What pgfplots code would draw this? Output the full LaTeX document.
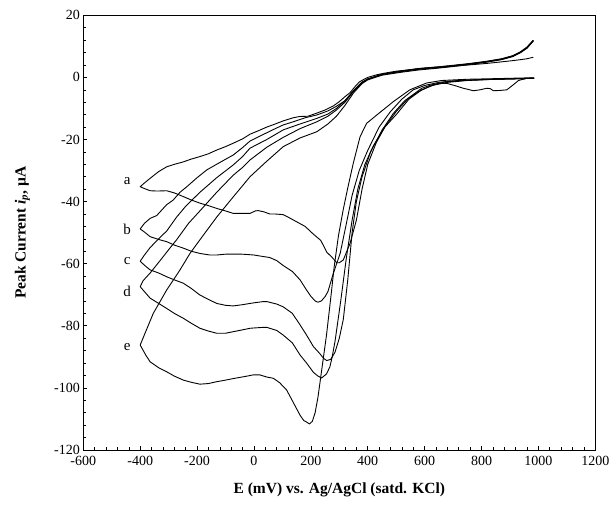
\documentclass[border=0pt]{standalone}
\usepackage{fontspec}
\setmainfont{Liberation Serif}
\usepackage{pgfplots}
\pgfplotsset{compat=1.18}
\usetikzlibrary{calc}
\begin{document}
\begin{tikzpicture}
\begin{axis}[
  scale only axis,
  width=512pt, height=434.7pt,
  xmin=-600, xmax=1200, ymin=-120, ymax=20,
  xtick={-600,-400,...,1200}, ytick={-120,-100,...,20},
  minor x tick num=4, minor y tick num=4,
  tick pos=left, tick align=inside,
  major tick length=4pt, minor tick length=2.5pt,
  axis line style={line width=0.8pt},
  every tick/.style={black, line width=0.6pt},
  /pgf/number format/assume math mode=true,
  /pgf/number format/1000 sep={},
  ticklabel style={font=\fontsize{14}{15}\selectfont},
  xticklabel style={yshift=-3pt},
  xlabel={\textbf{E (mV) vs. Ag/AgCl (satd. KCl)}},
  ylabel={\textbf{Peak Current \textit{i}\textsubscript{\textit{p}}, µA}},
  label style={font=\fontsize{15.5}{16}\selectfont},
  xlabel style={at={(axis description cs:0.5,-0.092)}, anchor=center},
  ylabel style={at={(axis description cs:-0.119,0.5)}, anchor=center},
  every axis plot post/.style={black, line width=0.9pt, line join=round, mark=none},
  clip=false,
]
% curve a
\addplot coordinates {(985,-0.2)(960,-0.3)(945,-0.6)(930,-1)(910,-2.5)(889,-4)(865,-4.2)(842,-4.3)(830,-3.6)(818,-3.5)(795,-4)(771,-4.3)(750,-3.8)(736,-3.5)(705,-2.6)(677,-1.9)(650,-2)(620,-2.8)(580,-4.5)(540,-7)(500,-11)(460,-16)(430,-21)(400,-28)(380,-36)(360,-46)(338,-53.4)(314,-58.8)(300,-59.7)(291,-59.7)(275,-58)(256,-56.3)(235,-52.5)(209,-50.5)(180,-48)(150,-46.5)(120,-45)(103,-44.2)(75,-44)(56,-44)(35,-43.3)(15,-42.9)(5,-43)(-14,-43.8)(-40,-43.8)(-73,-43.8)(-100,-43)(-131,-42.2)(-160,-41.3)(-190,-40.5)(-220,-39.5)(-248,-38.4)(-280,-37.2)(-307,-36.5)(-340,-36.6)(-365,-36.5)(-385,-35.8)(-400,-35.2)
(-385,-34)(-365,-32.5)(-336,-30.4)(-307,-28.8)(-280,-28)(-248,-27.2)(-220,-26.3)(-190,-25.5)(-160,-24.6)(-131,-23.4)(-100,-22.3)(-73,-21.2)(-40,-19.8)(-14,-18.3)(15,-17.2)(45,-16)(75,-15)(103,-14)(138,-13)(160,-12.6)(190,-12.5)(221,-11.5)(250,-10.5)(279,-9.2)(300,-7.8)(320,-6.2)(338,-4.9)(355,-3)(370,-1.5)(385,-0.7)(400,0)(430,0.8)(455,1.3)(500,2)(572,2.7)(650,3.2)(700,3.6)(780,4.2)(818,4.5)(870,5)(910,5.4)(936,5.7)(960,6)(982,6.5)};
% curve b
\addplot coordinates {(985,-0.3)(900,-0.5)(800,-0.7)(700,-1.1)(650,-1.6)(600,-2.6)(560,-4)(520,-7)(480,-11)(440,-16)(400,-23.5)(370,-30)(345,-38)(325,-47)(303,-56.7)(279,-63.1)(260,-69)(250,-70.6)(237,-72)(225,-72.4)(215,-72)(200,-70.5)(185,-68.5)(162,-65.2)(135,-62.5)(103,-60.6)(80,-59)(55,-58)(33,-57.7)(0,-57.2)(-30,-57)(-50,-56.9)(-73,-56.9)(-96,-56.9)(-131,-57.2)(-155,-57.2)(-190,-56.7)(-220,-56)(-248,-55)(-280,-54)(-307,-52.9)(-335,-52.2)(-365,-51.3)(-385,-49.8)(-400,-48.8)
(-385,-47)(-365,-45.4)(-342,-44.5)(-307,-41)(-284,-39.5)(-260,-37)(-236,-35.2)(-200,-32.3)(-166,-29.8)(-120,-27.4)(-73,-25)(-40,-22.6)(-14,-20.5)(30,-18.5)(68,-16.8)(103,-15.3)(138,-14.3)(180,-13)(221,-12.1)(260,-10.8)(290,-9.3)(320,-7.5)(350,-4.5)(380,-1.8)(400,-0.6)(450,1)(513,1.9)(580,2.8)(650,3.4)(700,3.8)(760,4.3)(818,5)(870,5.8)(910,6.8)(936,8)(960,9.5)(982,11.8)};
% curve c
\addplot coordinates {(985,-0.3)(850,-0.6)(750,-0.9)(670,-1.5)(620,-2.5)(590,-3.5)(560,-5.5)(530,-7.5)(490,-11.6)(450,-17)(410,-24)(380,-32)(360,-40)(345,-50)(330,-65)(314,-78)(300,-84)(285,-88.5)(270,-90.8)(256,-91.2)(245,-90.5)(230,-88.8)(209,-86.7)(185,-83)(162,-79.7)(135,-76)(103,-73.9)(80,-73)(45,-72.2)(33,-72.2)(0,-72.6)(-14,-72.8)(-40,-73.2)(-73,-73.6)(-100,-73.4)(-131,-72.8)(-160,-71.5)(-190,-70.1)(-220,-68)(-248,-66.3)(-280,-65.2)(-307,-64.2)(-335,-63)(-365,-62)(-385,-60.5)(-400,-59.2)
(-385,-57.2)(-365,-54.8)(-330,-51.5)(-307,-49.5)(-272,-45)(-240,-41.5)(-190,-37)(-131,-32.3)(-73,-28.2)(-40,-25.5)(-14,-22.8)(45,-20)(103,-16.9)(162,-15)(221,-13.2)(260,-11.8)(290,-10)(320,-7.5)(350,-4.2)(380,-1.5)(400,-0.5)(450,1)(513,2)(580,2.9)(650,3.4)(700,3.9)(760,4.5)(818,5.2)(870,6)(910,7)(936,8.2)(960,9.8)(982,12)};
% curve d
\addplot coordinates {(985,-0.3)(850,-0.6)(750,-1)(680,-1.6)(630,-2.5)(590,-4)(545,-7)(500,-12)(460,-16)(420,-22)(390,-28)(365,-36)(345,-46)(325,-58)(305,-72)(285,-85)(275,-90)(267,-93.2)(255,-95.5)(238,-96.8)(225,-96.2)(209,-95)(185,-92)(162,-89.4)(135,-85.5)(103,-83)(80,-81.5)(45,-80.5)(33,-80.5)(0,-80.7)(-14,-80.8)(-40,-81.3)(-73,-81.9)(-100,-82.4)(-131,-82.4)(-160,-81.7)(-190,-80.8)(-220,-79.2)(-248,-77.6)(-280,-76)(-307,-74.4)(-335,-72.8)(-365,-71.1)(-385,-69)(-400,-67.4)
(-390,-65.5)(-365,-63)(-330,-59)(-300,-55.5)(-272,-52.3)(-230,-47)(-190,-43)(-131,-37)(-73,-31.5)(-40,-29)(-14,-26.6)(45,-22.5)(103,-19.3)(162,-16.5)(221,-14.3)(260,-12.5)(290,-10.5)(320,-8)(350,-4.5)(380,-1.6)(400,-0.5)(450,0.9)(513,1.8)(580,2.6)(650,3.2)(700,3.7)(760,4.4)(818,5.1)(870,5.9)(910,6.9)(936,8.1)(960,9.6)(982,11.9)};
% curve e
\addplot coordinates {(985,-0.1)(850,-0.4)(750,-0.6)(660,-1)(607,-1.8)(548,-4)(490,-7.8)(432,-12.1)(396,-14.8)(373,-19.1)(349,-27.7)(330,-35.5)(314,-42.5)(297,-51)(282,-61)(270,-71)(255,-83)(240,-93)(225,-103)(215,-108)(205,-110.8)(195,-111.6)(185,-111)(175,-110.5)(162,-108.8)(140,-105)(115,-100.7)(90,-98.3)(68,-96.9)(45,-96.5)(20,-95.8)(-2,-95.8)(-30,-96.3)(-73,-97)(-100,-97.5)(-131,-98)(-160,-98.6)(-190,-98.8)(-220,-98.2)(-248,-97.5)(-280,-96.2)(-307,-94.8)(-335,-93.5)(-365,-91.6)(-380,-89.5)(-400,-86.2)
(-383,-82.4)(-354,-76)(-307,-68.5)(-260,-62)(-225,-56.7)(-190,-52.3)(-131,-45)(-73,-38.5)(-14,-32)(45,-27)(103,-22.3)(162,-19.5)(221,-17.5)(260,-15)(290,-12.5)(320,-9)(350,-5)(380,-2)(400,-0.8)(450,0.7)(513,1.6)(580,2.4)(650,3)(700,3.5)(760,4.2)(818,4.9)(870,5.7)(910,6.7)(936,7.9)(960,9.4)(982,11.7)};
\node[font=\fontsize{15}{15}\selectfont] at (axis cs:-446,-33.4) {a};
\node[font=\fontsize{15}{15}\selectfont] at (axis cs:-446,-48.9) {b};
\node[font=\fontsize{15}{15}\selectfont] at (axis cs:-446,-59.1) {c};
\node[font=\fontsize{15}{15}\selectfont] at (axis cs:-446,-69) {d};
\node[font=\fontsize{15}{15}\selectfont] at (axis cs:-446,-86.7) {e};
\coordinate (ll) at (rel axis cs:0,0);
\coordinate (ur) at (rel axis cs:1,1);
\end{axis}
\pgfresetboundingbox
\path ($(ll)+(-83.3pt,-56pt)$) rectangle ($(ur)+(15.7pt,15.3pt)$);
\end{tikzpicture}
\end{document}
